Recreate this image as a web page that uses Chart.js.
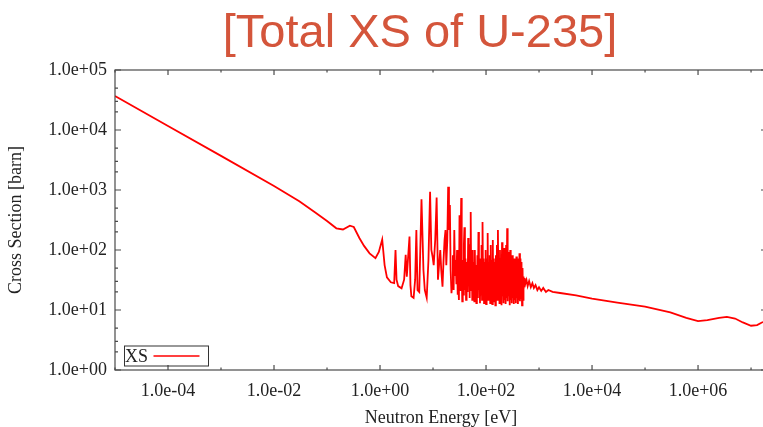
<!DOCTYPE html>
<html>
<head>
<meta charset="utf-8">
<title>Total XS of U-235</title>
<script src="https://cdn.jsdelivr.net/npm/chart.js@4.4.0/dist/chart.umd.min.js"></script>
<style>
  body { margin: 0; overflow: hidden; background: #fff; }
  #wrap { position: relative; width: 763px; height: 427px; overflow: hidden; }
  #title {
    position: absolute; left: 220px; top: 7px; width: 400px;
    text-align: center; white-space: nowrap;
    font-family: "Liberation Sans", Arial, sans-serif;
    font-size: 47px; line-height: 47px; color: #d4553b;
  }
  canvas { position: absolute; left: 0; top: 0; }
</style>
</head>
<body>
<div id="wrap">
  <canvas id="xsChart" width="770" height="427"></canvas>
  <div id="title">[Total XS of U-235]</div>
</div>
<script>
// neutron energy [eV]
const energies = [
  1e-5, 1e-4, 1e-3, 1e-2, 0.03, 0.06, 0.1, 0.15, 0.2, 0.27,
  0.32, 0.41, 0.5, 0.635, 0.82, 0.95, 1.1, 1.22, 1.35, 1.6,
  1.85, 1.96, 2.05, 2.2, 2.55, 2.85, 3.05, 3.2, 3.6, 3.75,
  3.9, 4.3, 4.6, 4.85, 5.1, 5.5, 6.06, 6.6, 7.0, 7.6,
  8.2, 8.8, 9.3, 9.8, 10.3, 11.0, 11.7, 12.4, 13.0, 13.7,
  14.3, 15.1, 15.8, 16.5, 17.2, 17.8, 18.6, 19.3, 20.0, 20.8,
  21.5, 22.3, 23.0, 23.7, 24.5, 25.2, 26.0, 26.8, 27.6, 28.4,
  29.2, 30.0, 30.8, 31.6, 32.4, 33.2, 34.0, 34.8, 35.6, 36.4,
  37.3, 38.2, 39.1, 40.0, 41.0, 42.0, 43.0, 44.0, 45.0, 46.0,
  47.0, 48.0, 49.1, 50.2, 51.4, 52.6, 53.8, 55.0, 56.2, 57.5,
  58.8, 60.1, 61.5, 62.9, 64.3, 65.7, 67.2, 68.7, 70.3, 71.9,
  73.5, 75.2, 76.9, 78.6, 80.4, 82.2, 84.0, 85.9, 87.8, 89.8,
  91.8, 93.9, 96.0, 98.2, 100.4, 102.7, 105.0, 107.4, 109.8, 112.3,
  114.8, 117.4, 120.0, 122.7, 125.5, 128.3, 131.2, 134.2, 137.2, 140.3,
  143.5, 146.7, 150.0, 153.4, 156.9, 160.4, 164.0, 167.7, 171.5, 175.4,
  179.3, 183.4, 187.5, 191.7, 196.0, 200.4, 204.9, 209.5, 214.2, 219.0,
  224.0, 229.0, 234.2, 239.5, 244.9, 250.4, 256.0, 261.8, 267.7, 273.7,
  279.9, 286.2, 292.6, 299.2, 306.0, 312.9, 319.9, 327.1, 334.5, 342.0,
  349.7, 357.6, 365.7, 373.9, 382.3, 390.9, 399.7, 408.7, 418.0, 427.4,
  437.0, 446.9, 457.0, 467.3, 477.8, 488.6, 499.6, 510, 522, 535,
  550, 580, 610, 650, 700, 750, 800, 860, 930, 1000,
  1100, 1200, 1350, 1500, 1800, 2500, 5000, 1e4, 3e4, 1e5,
  3e5, 6e5, 1e6, 1.5e6, 2.5e6, 3.5e6, 5e6, 7e6, 1e7, 1.3e7,
  1.6e7, 2e7
];

// total cross section [barn]
const xsBarn = [
  36900, 11700, 3700, 1170, 650, 422, 304, 230, 220, 254,
  242, 157, 117, 88, 73, 93, 150, 56, 35, 29,
  28, 100, 32, 25, 23, 32, 83, 36, 167, 26,
  17, 16, 32, 215, 21.5, 20, 700, 46, 21.5, 16,
  68, 937, 100, 78, 56, 147, 750, 32, 56, 100,
  46, 24.5, 68, 147, 215, 56, 147, 1135, 215, 562,
  46, 19, 27, 82, 21.5, 215, 38, 68, 27, 100,
  18, 27, 14.7, 380, 21.5, 147, 736, 46, 14, 68,
  18, 121, 240, 21.5, 72, 14.7, 16.5, 63, 20, 158,
  27, 82, 15.8, 121, 430, 21.5, 68, 14.7, 100, 17,
  63, 14, 100, 23, 56, 13, 14.7, 82, 15.8, 200,
  21.5, 72, 13, 63, 18, 121, 14.7, 293, 31.6, 72,
  13, 63, 15.8, 100, 12.6, 72, 17, 192, 14.7, 63,
  19.5, 82, 13, 121, 15.8, 68, 12.6, 147, 15.8, 72,
  14, 63, 12, 82, 17, 121, 14.7, 215, 20, 72,
  13, 100, 15.8, 63, 12, 135, 17, 72, 13, 108,
  14.7, 63, 12.6, 121, 15.8, 230, 14, 93, 17, 68,
  12, 100, 14.7, 63, 13, 82, 15.8, 56, 12.6, 72,
  14.7, 60, 13, 78, 15.8, 56, 12.6, 72, 14.7, 88,
  14, 72, 15.8, 63, 12, 50, 14.7, 36, 25, 34,
  27, 31.6, 25, 30.4, 24, 28, 23.3, 26, 21.5, 24,
  20.8, 23.3, 20, 21.5, 20, 19.2, 17.5, 15.5, 13.3, 11.4,
  9.1, 7.4, 6.55, 6.8, 7.4, 7.7, 7.2, 6.2, 5.47, 5.6,
  6.2, 6.6
];

const xTicks = [1e-5, 1e-4, 1e-3, 1e-2, 1e-1, 1, 10, 1e2, 1e3, 1e4, 1e5, 1e6, 1e7];
const xTickLabels = ["", "1.0e-04", "", "1.0e-02", "", "1.0e+00", "", "1.0e+02", "", "1.0e+04", "", "1.0e+06", ""];
const yTicks = [1, 10, 100, 1e3, 1e4, 1e5];
const yTickLabels = ["1.0e+00", "1.0e+01", "1.0e+02", "1.0e+03", "1.0e+04", "1.0e+05"];
const yMinor = [2, 3, 5];

const lineColor = "#ff0000";
const axisColor = "#4a4a4a";

// gnuplot style frame: box, inward ticks on all four sides, legend box
const frameTicks = {
  id: "frameTicks",
  afterDatasetsDraw(chart) {
    const { ctx, chartArea, scales } = chart;
    const { left, right, top, bottom } = chartArea;
    ctx.save();
    ctx.strokeStyle = axisColor;
    ctx.lineWidth = 1.2;
    ctx.beginPath();
    xTicks.forEach((v, i) => {
      const px = scales.x.getPixelForValue(v);
      const len = xTickLabels[i] ? 5 : 2.5;
      ctx.moveTo(px, bottom);
      ctx.lineTo(px, bottom - len);
      ctx.moveTo(px, top);
      ctx.lineTo(px, top + len);
    });
    yTicks.forEach((v, i) => {
      const py = scales.y.getPixelForValue(v);
      ctx.moveTo(left, py);
      ctx.lineTo(left + 6, py);
      ctx.moveTo(right, py);
      ctx.lineTo(right - 6, py);
      if (i < yTicks.length - 1) {
        yMinor.forEach((m) => {
          const pm = scales.y.getPixelForValue(v * m);
          ctx.moveTo(left, pm);
          ctx.lineTo(left + 3, pm);
          ctx.moveTo(right, pm);
          ctx.lineTo(right - 3, pm);
        });
      }
    });
    ctx.stroke();
    ctx.strokeRect(left, top, right - left, bottom - top);

    // legend
    const bx = left + 9.5, by = bottom - 24;
    ctx.lineWidth = 1;
    ctx.strokeStyle = "#333";
    ctx.strokeRect(bx, by, 84, 20);
    ctx.fillStyle = "#222";
    ctx.font = "18px 'Liberation Serif'";
    ctx.textBaseline = "alphabetic";
    ctx.fillText(chart.data.datasets[0].label, bx + 0.5, by + 15.5);
    ctx.strokeStyle = lineColor;
    ctx.lineWidth = 1.3;
    ctx.beginPath();
    ctx.moveTo(bx + 29, by + 10);
    ctx.lineTo(bx + 75, by + 10);
    ctx.stroke();
    ctx.restore();
  }
};

Chart.defaults.font.family = "'Liberation Serif', 'Times New Roman', serif";
Chart.defaults.font.size = 18;
Chart.defaults.color = "#222";

new Chart("xsChart", {
  type: "line",
  data: {
    datasets: [
      {
        label: "XS",
        data: energies.map((e, i) => ({ x: e, y: xsBarn[i] })),
        borderColor: lineColor,
        borderWidth: 1.8,
        pointRadius: 0,
        tension: 0,
        fill: false,
      },
    ],
  },
  options: {
    responsive: false,
    animation: false,
    layout: { padding: { top: 70, right: 3, bottom: 0, left: 0 } },
    plugins: { legend: { display: false }, tooltip: { enabled: false } },
    scales: {
      x: {
        type: "logarithmic",
        min: 1e-5,
        max: 2e7,
        grid: { display: false, drawTicks: false },
        border: { display: false },
        afterBuildTicks: (scale) => {
          scale.ticks = xTicks.map((v) => ({ value: v }));
        },
        afterFit: (scale) => {
          scale.height = 57;
        },
        ticks: {
          autoSkip: false,
          maxRotation: 0,
          padding: 10,
          callback: (value) => xTickLabels[xTicks.indexOf(value)] || "",
        },
        title: {
          display: true,
          text: "Neutron Energy [eV]",
          padding: { top: 0, bottom: -2 },
        },
      },
      y: {
        type: "logarithmic",
        min: 1,
        max: 1e5,
        grid: { display: false, drawTicks: false },
        border: { display: false },
        afterBuildTicks: (scale) => {
          scale.ticks = yTicks.map((v) => ({ value: v }));
        },
        afterFit: (scale) => {
          scale.width = 115;
        },
        ticks: {
          autoSkip: false,
          padding: 8,
          callback: (value) => yTickLabels[yTicks.indexOf(value)] || "",
        },
        title: {
          display: true,
          text: "Cross Section [barn]",
          padding: { top: 5, bottom: 0 },
        },
      },
    },
  },
  plugins: [frameTicks],
});
</script>
</body>
</html>
